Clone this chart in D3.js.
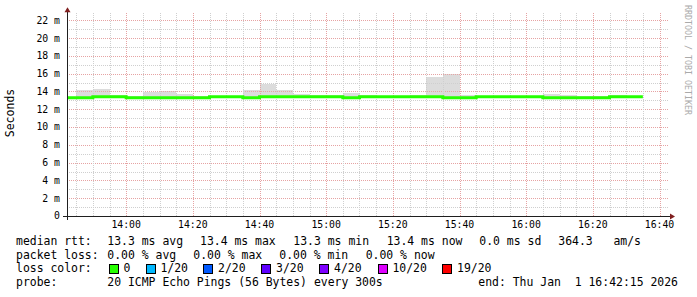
<!DOCTYPE html>
<html>
<head>
<meta charset="utf-8">
<script src="https://cdn.jsdelivr.net/npm/d3@7"></script>
<style>
  body { margin: 0; background: #fff; }
  text { font-family: "DejaVu Sans Mono", monospace; white-space: pre; }
</style>
</head>
<body>
<div id="chart"></div>
<script>
// 5 minute bins (start time of each step)
const binTimes = [
  "13:40", "13:45", "13:50", "13:55", "14:00", "14:05", "14:10", "14:15",
  "14:20", "14:25", "14:30", "14:35", "14:40", "14:45", "14:50", "14:55",
  "15:00", "15:05", "15:10", "15:15", "15:20", "15:25", "15:30", "15:35",
  "15:40", "15:45", "15:50", "15:55", "16:00", "16:05", "16:10", "16:15",
  "16:20", "16:25", "16:30"
];
// median rtt in ms
const medianMs = [
  13.3, 13.3, 13.4, 13.4, 13.3, 13.3, 13.3, 13.3,
  13.3, 13.4, 13.4, 13.3, 13.4, 13.4, 13.4, 13.4,
  13.4, 13.3, 13.4, 13.4, 13.4, 13.4, 13.4, 13.3,
  13.3, 13.4, 13.4, 13.4, 13.4, 13.3, 13.3, 13.3,
  13.3, 13.4, 13.4
];
// smoke band (slowest / fastest ping) in ms
const smokeMaxMs = [
  13.40, 14.15, 14.30, 13.55, 13.45, 13.90, 14.05, 13.70,
  13.45, 13.45, 13.45, 14.20, 14.80, 14.20, 13.75, 13.60,
  13.55, 13.80, 13.65, 13.45, 13.45, 13.65, 15.60, 16.00,
  13.60, 13.50, 13.50, 13.50, 13.45, 13.70, 13.55, 13.50,
  13.50, 13.65, 13.50
];
const smokeMinMs = [
  13.20, 13.20, 13.25, 13.25, 13.20, 13.20, 13.20, 13.20,
  13.20, 13.25, 13.25, 13.20, 13.25, 13.25, 13.25, 13.25,
  13.25, 13.20, 13.25, 13.25, 13.25, 13.25, 13.25, 13.20,
  13.20, 13.25, 13.25, 13.25, 13.25, 13.20, 13.20, 13.20,
  13.20, 13.25, 13.25
];

const yTicks = [0, 2, 4, 6, 8, 10, 12, 14, 16, 18, 20, 22];
const xTickLabels = ["14:00", "14:20", "14:40", "15:00", "15:20", "15:40", "16:00", "16:20", "16:40"];

const rttStats = ["13.3 ms avg", "13.4 ms max", "13.3 ms min", "13.4 ms now", "0.0 ms sd", "364.3   am/s"];
const lossStats = ["0.00 % avg", "0.00 % max", "0.00 % min", "0.00 % now"];
const lossLabels = ["0", "1/20", "2/20", "3/20", "4/20", "10/20", "19/20"];
const lossColors = ["#26ff00", "#00b8ff", "#0059ff", "#5e00ff", "#7e00ff", "#dd00ff", "#ff0000"];
const probeText = "20 ICMP Echo Pings (56 Bytes) every 300s";
const endText = "end: Thu Jan  1 16:42:15 2026";

const day = "2026-01-01 ";
const parse = d3.timeParse("%Y-%m-%d %H:%M:%S");
const tStart = parse(day + "13:42:15");
const tEnd = parse(day + "16:42:15");

const W = 697, H = 297;
const pLeft = 67, pRight = 667, pTop = 13.2, pBottom = 216;

const svg = d3.select("#chart").append("svg")
  .attr("width", W).attr("height", H);

svg.append("rect").attr("width", W).attr("height", H).attr("fill", "#fff");

const x = d3.scaleTime().domain([tStart, tEnd]).range([pLeft, pRight]);
const y = d3.scaleLinear().domain([0, 22.8]).range([pBottom, pTop]);

const rows = binTimes.map((t, i) => {
  const t0 = parse(day + t + ":00");
  return { t0, t1: d3.timeMinute.offset(t0, 5), med: medianMs[i], hi: smokeMaxMs[i], lo: smokeMinMs[i] };
});

svg.append("clipPath").attr("id", "plot")
  .append("rect").attr("x", pLeft).attr("y", pTop).attr("width", pRight - pLeft).attr("height", pBottom - pTop);

// smoke
svg.append("g").attr("clip-path", "url(#plot)")
  .selectAll("rect").data(rows).enter().append("rect")
  .attr("x", d => x(d.t0))
  .attr("width", d => x(d.t1) - x(d.t0))
  .attr("y", d => y(d.hi))
  .attr("height", d => y(d.lo) - y(d.hi))
  .attr("fill", "#dcdcdc")
  .attr("shape-rendering", "crispEdges");

// grid
const grid = svg.append("g").attr("shape-rendering", "crispEdges").attr("stroke-dasharray", "1,1");
d3.range(1, 23).forEach(v => {
  grid.append("line")
    .attr("x1", pLeft).attr("x2", pRight + 1)
    .attr("y1", Math.round(y(v)) + 0.5).attr("y2", Math.round(y(v)) + 0.5)
    .attr("stroke", v % 2 === 0 ? "#e6a3a3" : "#cfcfcf");
});
d3.timeMinute.every(5).range(tStart, tEnd).forEach(t => {
  const major = t.getMinutes() % 20 === 0;
  grid.append("line")
    .attr("x1", Math.round(x(t)) + 0.5).attr("x2", Math.round(x(t)) + 0.5)
    .attr("y1", pTop).attr("y2", pBottom)
    .attr("stroke", major ? "#e6a3a3" : "#cfcfcf");
});

// median line
const pts = rows.map(d => [d.t0, d.med]);
pts.push([rows[rows.length - 1].t1, rows[rows.length - 1].med]);
svg.append("path")
  .attr("clip-path", "url(#plot)")
  .attr("d", d3.line().x(d => x(d[0])).y(d => y(d[1])).curve(d3.curveStepAfter)(pts))
  .attr("fill", "none")
  .attr("stroke", lossColors[0])
  .attr("stroke-width", 3);

// axes
const axis = svg.append("g").attr("shape-rendering", "crispEdges");
axis.append("line").attr("x1", pLeft - 4).attr("x2", pRight + 4)
  .attr("y1", pBottom + 0.5).attr("y2", pBottom + 0.5).attr("stroke", "#1f1f1f");
axis.append("line").attr("x1", pLeft + 0.5).attr("x2", pLeft + 0.5)
  .attr("y1", pBottom + 4).attr("y2", pTop - 3).attr("stroke", "#1f1f1f");
svg.append("path").attr("d", `M${pRight + 8},${pBottom + 0.5} L${pRight + 3},${pBottom - 2.5} L${pRight + 3},${pBottom + 3.5} Z`)
  .attr("fill", "#801f1f");
svg.append("path").attr("d", `M${pLeft + 0.5},${pTop - 6} L${pLeft - 2.5},${pTop - 1} L${pLeft + 3.5},${pTop - 1} Z`)
  .attr("fill", "#801f1f");

// y tick labels
svg.append("g").selectAll("text").data(yTicks).enter().append("text")
  .attr("x", 60).attr("y", d => y(d)).attr("dy", "0.35em")
  .attr("text-anchor", "end").attr("font-size", "9.8px").attr("fill", "#000")
  .text(d => d === 0 ? "0" : d + " m");

// x tick labels
svg.append("g").selectAll("text").data(xTickLabels).enter().append("text")
  .attr("x", d => x(parse(day + d + ":00")))
  .attr("y", 228).attr("text-anchor", "middle").attr("font-size", "9.8px").attr("fill", "#000")
  .text(d => d);

// axis title
svg.append("text").attr("transform", "translate(14,113) rotate(-90)")
  .attr("text-anchor", "middle").attr("font-size", "11.5px").text("Seconds");

svg.append("text").attr("transform", "translate(685,5) rotate(90)")
  .attr("font-size", "8.3px").attr("fill", "#aaa").text("RRDTOOL / TOBI OETIKER");

// legend
const lg = svg.append("g").attr("font-size", "11.45px").attr("fill", "#000");
const row1x = [107.3, 200, 293.3, 386.7, 479.3, 558.3];
const row2x = [107.3, 193.3, 279.3, 365.7];
const boxX = [108.7, 145.7, 203.3, 261.3, 319.3, 377.7, 442.3];

lg.append("text").attr("x", 16).attr("y", 245).text("median rtt:");
rttStats.forEach((s, i) => lg.append("text").attr("x", row1x[i]).attr("y", 245).text(s));

lg.append("text").attr("x", 16).attr("y", 258.7).text("packet loss:");
lossStats.forEach((s, i) => lg.append("text").attr("x", row2x[i]).attr("y", 258.7).text(s));

lg.append("text").attr("x", 16).attr("y", 272.4).text("loss color:");
lossLabels.forEach((s, i) => {
  lg.append("rect").attr("x", Math.round(boxX[i]) + 0.5).attr("y", 264.5)
    .attr("width", 9).attr("height", 9)
    .attr("fill", lossColors[i]).attr("stroke", "#000").attr("shape-rendering", "crispEdges");
  lg.append("text").attr("x", boxX[i] + 14.7).attr("y", 272.4).text(s);
});

lg.append("text").attr("x", 16).attr("y", 286).text("probe:");
lg.append("text").attr("x", 107.3).attr("y", 286).text(probeText);
lg.append("text").attr("x", 478.3).attr("y", 286).text(endText);
</script>
</body>
</html>
